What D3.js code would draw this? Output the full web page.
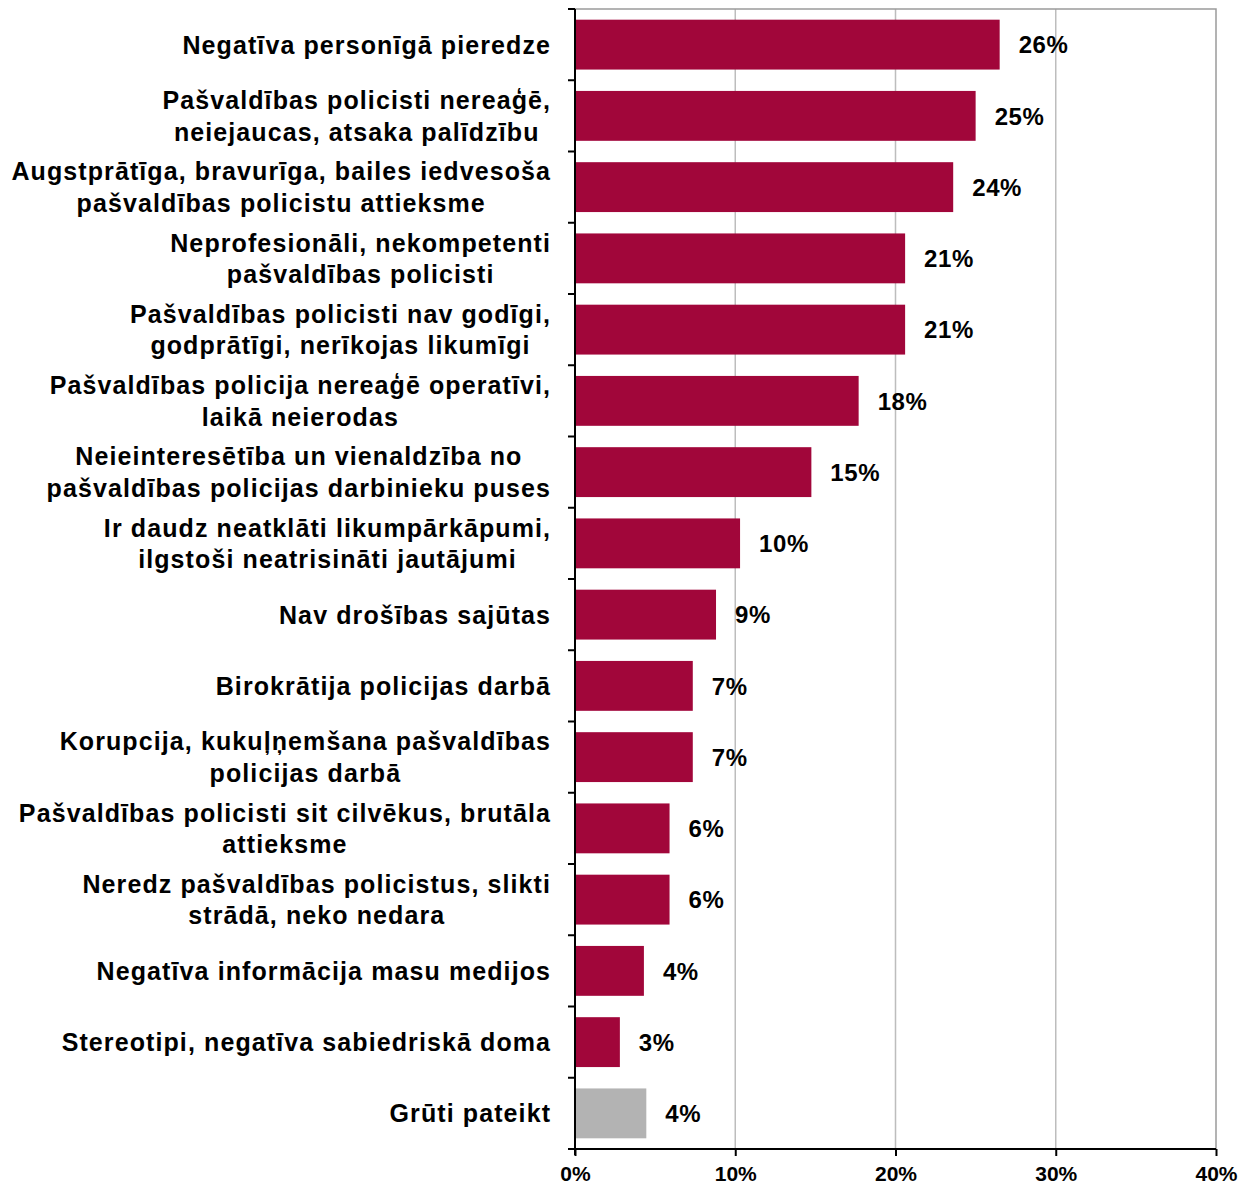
<!DOCTYPE html>
<html><head><meta charset="utf-8">
<script src="https://cdn.jsdelivr.net/npm/d3@7/dist/d3.min.js"></script>
<style>body{margin:0;background:#fff}svg{display:block}text{font-family:"Liberation Sans",Arial,sans-serif;font-weight:bold;fill:#000}</style>
</head><body><svg id="c" width="1250" height="1184"></svg>
<script>
const categories = [
  "Negatīva personīgā pieredze",
  "Pašvaldības policisti nereaģē,\nneiejaucas, atsaka palīdzību",
  "Augstprātīga, bravurīga, bailes iedvesoša\npašvaldības policistu attieksme",
  "Neprofesionāli, nekompetenti\npašvaldības policisti",
  "Pašvaldības policisti nav godīgi,\ngodprātīgi, nerīkojas likumīgi",
  "Pašvaldības policija nereaģē operatīvi,\nlaikā neierodas",
  "Neieinteresētība un vienaldzība no\npašvaldības policijas darbinieku puses",
  "Ir daudz neatklāti likumpārkāpumi,\nilgstoši neatrisināti jautājumi",
  "Nav drošības sajūtas",
  "Birokrātija policijas darbā",
  "Korupcija, kukuļņemšana pašvaldības\npolicijas darbā",
  "Pašvaldības policisti sit cilvēkus, brutāla\nattieksme",
  "Neredz pašvaldības policistus, slikti\nstrādā, neko nedara",
  "Negatīva informācija masu medijos",
  "Stereotipi, negatīva sabiedriskā doma",
  "Grūti pateikt"
];
const values = [26.5, 25.0, 23.6, 20.6, 20.6, 17.7, 14.75, 10.3, 8.8, 7.35, 7.35, 5.9, 5.9, 4.3, 2.8, 4.45];
const valueLabels = ["26%","25%","24%","21%","21%","18%","15%","10%","9%","7%","7%","6%","6%","4%","3%","4%"];
const isOther = [false,false,false,false,false,false,false,false,false,false,false,false,false,false,false,true];
const xTicks = [0, 10, 20, 30, 40];
const xTickLabels = ["0%","10%","20%","30%","40%"];

const svg = d3.select("#c");
const pL = 575, pR = 1216, pT = 9, pB = 1149;
const x = d3.scaleLinear().domain([0, 40]).range([pL, pR]);
const y = d3.scaleBand().domain(categories.map((d,i)=>i)).range([pT, pB]).paddingInner(0.3).paddingOuter(0.15);

// gridlines
svg.append("g").selectAll("line").data(xTicks.filter(t=>t>0 && t<40)).join("line")
  .attr("x1", d=>x(d)).attr("x2", d=>x(d)).attr("y1", pT).attr("y2", pB)
  .attr("stroke", "#bdbdbd").attr("stroke-width", 1.5);
// plot border top/right
svg.append("path").attr("d", `M${pL},${pT}H${pR}V${pB}`)
  .attr("fill","none").attr("stroke","#9a9a9a").attr("stroke-width",1.5);

// bars
svg.append("g").selectAll("rect").data(values).join("rect")
  .attr("x", x(0)).attr("y", (d,i)=>y(i)).attr("height", y.bandwidth())
  .attr("width", d=>x(d)-x(0))
  .attr("fill", (d,i)=>isOther[i] ? "#b3b3b3" : "#a1063a");

// value labels
svg.append("g").selectAll("text").data(values).join("text")
  .attr("x", d=>x(d)+19).attr("y", (d,i)=>y(i)+y.bandwidth()/2)
  .attr("dy", "0.36em").attr("font-size", 24).attr("letter-spacing", 0.6).text((d,i)=>valueLabels[i]);

// y axis
const step = (pB - pT) / categories.length;
const ya = svg.append("g");
ya.append("line").attr("x1", pL).attr("x2", pL).attr("y1", pT).attr("y2", pB+6)
  .attr("stroke","#000").attr("stroke-width",2);
ya.selectAll("line.t").data(d3.range(categories.length+1)).join("line").attr("class","t")
  .attr("x1", pL-7).attr("x2", pL).attr("y1", i=>pT+i*step).attr("y2", i=>pT+i*step)
  .attr("stroke","#000").attr("stroke-width",2);

// x axis
const xa = svg.append("g").attr("transform", `translate(0,${pB})`)
  .call(d3.axisBottom(x).tickValues(xTicks).tickFormat((d,i)=>xTickLabels[i]).tickSize(7).tickPadding(10));
xa.select(".domain").attr("stroke","#000").attr("stroke-width",2).attr("d", `M${pL},0H${pR}`);
xa.selectAll(".tick line").attr("stroke","#000").attr("stroke-width",2);
xa.selectAll(".tick text").attr("font-size", 21).attr("font-family", '"Liberation Sans",Arial,sans-serif').attr("font-weight","bold").attr("fill","#000");

// category labels (centered lines, right-aligned block)
const lab = svg.append("g");
const lineH = 31.5;
const ls = 1.1;
categories.forEach((c,i)=>{
  const lines = c.split("\n");
  const cy = y(i) + y.bandwidth()/2;
  const g = lab.append("g");
  const ts = lines.map((l,k)=> g.append("text").attr("font-size", 25).attr("letter-spacing", ls)
    .attr("y", cy + (k - (lines.length-1)/2)*lineH).attr("dy","0.36em").text(l));
  const w = d3.max(ts, t=>t.node().getComputedTextLength());
  const cx = 550 + ls - w/2;
  ts.forEach(t=>t.attr("x", cx).attr("text-anchor","middle"));
});
</script></body></html>
